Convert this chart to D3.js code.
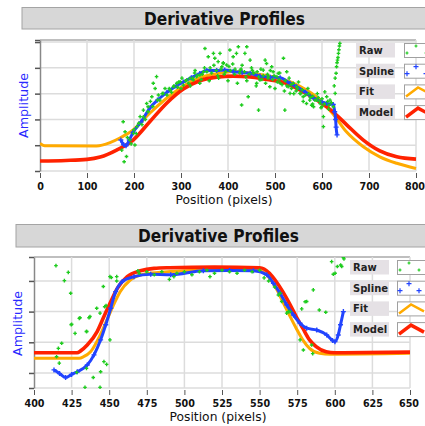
<!DOCTYPE html>
<html>
<head>
<meta charset="utf-8">
<script src="https://cdn.jsdelivr.net/npm/d3@7"></script>
<style>
body { margin: 0; background: #fff; }
svg { display: block; }
</style>
</head>
<body>
<script>
// ---- data: [position, amplitude] ----
const seriesNames = ['Raw', 'Spline', 'Fit', 'Model'];

const topModel = [[0,.39],[55,.41],[100,.45],[128,.54],[163,.81],[198,1.2],[234,1.92],[270,2.64],[305,3.18],[340,3.5],[376,3.64],[411,3.68],[447,3.65],[482,3.55],[517,3.44],[553,3.14],[589,2.75],[624,2.28],[652,1.8],[688,1.2],[723,.78],[759,.55],[800,.46]];
const topFit = [[0,1.07],[10,.98],[120,.97],[149,1.1],[170,1.28],[198,1.59],[234,2.25],[270,2.83],[305,3.3],[340,3.62],[376,3.77],[411,3.86],[447,3.8],[482,3.7],[517,3.56],[553,3.28],[589,2.86],[624,2.2],[652,1.52],[688,.94],[723,.55],[759,.3],[800,.1]];
const topSpline = [[172,1.2],[178,1.02],[183,.98],[190,1.2],[198,1.5],[215,1.9],[234,2.45],[250,2.75],[270,3.05],[290,3.3],[305,3.45],[322,3.62],[340,3.78],[355,3.9],[376,3.9],[393,3.92],[411,3.86],[430,3.82],[447,3.79],[468,3.68],[490,3.64],[511,3.62],[532,3.4],[546,3.27],[565,3.05],[582,2.82],[600,2.68],[610,2.62],[624,2.58],[627,2.3],[629,2.0],[630,1.7],[632,1.4]];
const topRaw = [[177,1.91],[181,1.52],[174,.81],[179,.36],[184,.56],[191,1.2],[199,1.46],[202,1.01],[206,1.72],[213,2.11],[220,2.36],[227,2.62],[238,2.88],[245,3.2],[248,3.66],[241,3.4],[230,2.49],[255,2.75],[262,3.01],[270,2.95],[277,3.14],[284,3.27],[291,3.4],[298,3.46],[305,3.33],[312,3.53],[319,3.59],[326,3.53],[333,3.66],[340,3.72],[348,3.85],[351,4.75],[358,4.43],[369,4.56],[372,4.37],[379,4.24],[383,4.56],[387,4.04],[390,4.17],[397,4.11],[404,4.69],[411,4.43],[418,4.56],[422,4.82],[426,3.91],[429,2.56],[436,4.56],[440,4.82],[447,4.3],[443,2.88],[454,3.79],[461,3.4],[465,2.36],[468,3.53],[475,3.91],[479,4.3],[482,4.17],[486,3.66],[489,3.27],[493,4.04],[496,3.85],[504,3.66],[507,3.79],[511,3.4],[518,4.37],[521,2.36],[525,3.85],[528,3.27],[532,3.01],[539,3.4],[546,3.27],[553,3.01],[560,2.88],[567,2.62],[574,2.75],[582,2.49],[589,2.75],[596,2.62],[603,2.11],[606,3.07],[610,2.88],[617,2.75],[624,2.49],[628,3.01],[631,4.04],[635,4.56],[638,4.95],[630,3.79],[633,4.3],[603,1.72],
  [260,3.0],[275,3.2],[285,3.3],[295,3.45],[310,3.5],[325,3.6],[335,3.7],[345,3.75],[355,3.85],[365,3.8],[375,3.9],[385,3.95],[395,3.85],[405,3.9],[415,3.95],[425,3.8],[435,3.85],[445,3.75],[455,3.8],[465,3.65],[475,3.7],[485,3.6],[495,3.55],[505,3.45],[515,3.35],[525,3.3],[535,3.2],[545,3.1],[555,3.0],[565,2.95],[575,2.85],[585,2.75],[595,2.7],[605,2.6],[615,2.55],[200,1.6],[210,1.85],[220,2.1],[230,2.3],[240,2.5],[250,2.75],
  [300,3.2],[320,3.3],[340,3.4],[360,3.5],[380,3.6],[400,3.5],[420,3.4],[440,3.5],[460,3.3],[480,3.4],[500,3.2],[520,3.1],[540,3.0],[560,2.7],[580,2.6],[600,2.5],
  [330,3.9],[350,4.0],[370,4.1],[390,4.2],[410,4.15],[430,4.1],[450,4.0],[470,3.95],[490,3.9],[510,3.8],[530,3.6],[550,3.45],[570,3.2],[590,3.0],
  [626,3.3],[628,3.6],[632,4.2],[634,4.4],[636,4.7],[637,4.85],
  [186,1.3],[194,1.05],[205,1.45],[217,1.8],[224,2.0],[235,2.7],[252,2.95],[266,3.2],[280,3.05],[293,3.25],[302,3.6],[316,3.4],[329,3.8],[343,3.55],[362,4.0],[378,3.7],[392,3.75],[402,4.05],[414,3.75],[428,3.95],[438,3.65],[452,3.9],[462,3.85],[472,3.55],[484,3.75],[498,3.7],[509,3.55],[522,3.5],[534,3.35],[548,3.2],[558,3.15],[572,3.0],[580,2.9],[592,2.85],[600,2.8],[612,2.7],[620,2.65],[614,2.4],[598,2.45],[578,2.55]];

const botModel = [[400,1.66],[428.6,1.66],[431,1.72],[435.4,1.91],[442,2.35],[446.5,2.84],[451,3.32],[455.4,3.76],[462,4.14],[470.7,4.33],[479.8,4.41],[490,4.43],[520,4.45],[550,4.43],[556.6,4.25],[561,3.98],[565.4,3.65],[569.8,3.27],[574.3,2.84],[578.7,2.46],[583.2,2.08],[587.6,1.86],[594.3,1.69],[600,1.66],[650,1.68]];
const botFit = [[400,1.48],[430,1.48],[433,1.53],[437.6,1.69],[444,2.24],[448.5,2.73],[452.9,3.22],[457.3,3.65],[464,4.03],[472.8,4.22],[484,4.28],[500,4.33],[520,4.36],[548,4.36],[552.5,4.28],[556.6,4.09],[561,3.76],[565.4,3.32],[569.8,2.89],[574.3,2.46],[578.7,2.08],[583.2,1.8],[589.9,1.64],[597,1.61],[650,1.64]];
const botSpline = [[413.3,1.1],[417,.98],[421,.85],[425,.95],[428.8,1.04],[435.4,1.26],[439.9,1.59],[444.3,2.08],[447.7,2.57],[451,3.11],[454.3,3.65],[458.7,3.98],[466.5,4.14],[477.6,4.22],[490.9,4.2],[512.6,4.33],[530,4.34],[545.9,4.33],[554.8,4.2],[559.2,3.92],[563.6,3.6],[568,3.22],[572.5,2.89],[576.9,2.62],[581.3,2.46],[588,2.4],[594.6,2.24],[598.5,2.06],[600.1,2.02],[602.3,2.24],[603.8,2.57],[605.7,3.0]];
const botRaw = [[414.6,4.5],[422.8,4.28],[420.2,4.01],[424.4,3.6],[425,2.59],[430.1,2.78],[427.3,2.29],[434.9,2.35],[437.2,2.84],[441.7,3.11],[443.9,2.95],[446.1,3.82],[447.9,3.2],[450.5,4.14],[455,4.14],[418.4,1.97],[416.2,1.8],[416.8,1.32],[434.9,1.15],[439.4,.85],[444.3,1.04],[446.5,1.37],[433.9,.53],[443.9,.53],[415,1.53],
  [447,3.16],[436.6,2.8],[430.6,2.8],[424.8,2.57],[435,2.35],[450.5,2.08],[448.3,1.28],[428.4,1.02],[451.4,4.11],[455,4.0],[469.1,4.33],
  [470,4.25],[475,4.3],[480,4.2],[485,4.3],[490,4.05],[493,4.14],[495,4.25],[500,4.3],[505,4.2],[510,4.3],[515,4.35],[517,4.14],[520,4.25],[525,4.35],[530,4.3],[535,4.25],[540,4.35],[545,4.3],[550,4.35],[553,4.1],[556,4.0],[560,3.8],[562.5,3.54],[564.7,3.33],[563.6,3.6],[569.1,3.0],[570.2,3.0],[568,2.95],
  [578,3.09],[580.3,3.32],[585.7,3.71],[589.7,3.05],[594,2.98],[581.3,3.33],[576.9,2.08],[579.1,1.75],[585.3,1.63],[584.6,1.91],
  [597.9,4.63],[599,4.22],[601.7,4.47],[603.9,4.52],[605.7,4.76],[600.2,4.25],[604.6,4.47],[606.1,4.72]];

const topXTicks = [0, 100, 200, 300, 400, 500, 600, 700, 800];
const botXTicks = [400, 425, 450, 475, 500, 525, 550, 575, 600, 625, 650];
const topYTicks = [0, 1, 2, 3, 4, 5, 5.08];
const botYTicks = [0.51, 1, 2, 3, 4, 4.78];

const colors = { raw: '#1ecc1e', spline: '#2244ff', fit: '#ffaa00', model: '#ff2200' };

const svg = d3.select('body').append('svg').attr('width', 425).attr('height', 426);

function plus(s) { return `M${-s},0H${s}M0,${-s}V${s}`; }

function drawPanel(p) {
    const g = svg.append('g');

    // title bar
    g.append('rect')
        .attr('x', p.bar.x).attr('y', p.bar.y)
        .attr('width', 440 - p.bar.x).attr('height', p.bar.h)
        .attr('fill', '#d7d7d7').attr('stroke', '#a4a4a4');
    g.append('text')
        .attr('x', p.bar.tx).attr('y', p.bar.ty)
        .attr('text-anchor', 'middle')
        .attr('font-family', 'DejaVu Sans').attr('font-weight', 'bold')
        .attr('font-size', 17).attr('fill', '#111')
        .attr('textLength', 161).attr('lengthAdjust', 'spacingAndGlyphs')
        .text('Derivative Profiles');

    const x = d3.scaleLinear().domain(p.xDomain).range([p.left, p.right]);
    const y = d3.scaleLinear().domain(p.yDomain).range([p.bottom, p.top]);

    // grid
    g.append('g').selectAll('line').data(p.yTicks).join('line')
        .attr('x1', p.left).attr('x2', p.right)
        .attr('y1', d => y(d)).attr('y2', d => y(d))
        .attr('stroke', d => d === p.yDomain[1] ? '#aaa' : '#dcdcdc')
        .attr('stroke-width', 1.5);
    g.append('g').selectAll('line').data(p.xTicks.slice(1)).join('line')
        .attr('x1', d => x(d)).attr('x2', d => x(d))
        .attr('y1', p.top).attr('y2', p.bottom)
        .attr('stroke', '#dcdcdc').attr('stroke-width', 1.5);

    // axes
    const ya = g.append('g').attr('transform', `translate(${p.left},0)`)
        .call(d3.axisLeft(y).tickValues(p.yTicks).tickFormat('').tickSize(5).tickSizeOuter(0));
    ya.select('.domain').attr('stroke', '#888').attr('stroke-width', 1.5);
    ya.selectAll('.tick line').attr('stroke', '#555').attr('stroke-width', 1.5);

    const xa = g.append('g').attr('transform', `translate(0,${p.bottom + 2})`)
        .call(d3.axisBottom(x).tickValues(p.xTicks).tickSize(5).tickPadding(5));
    xa.select('.domain').remove();
    xa.selectAll('.tick line').attr('stroke', '#555');
    xa.selectAll('.tick text')
        .attr('font-family', 'DejaVu Sans').attr('font-weight', 'bold')
        .attr('font-size', 9.6).attr('fill', '#111')
        .attr('dx', (d, i, n) => i === n.length - 1 ? -1.5 : 0);

    g.append('text')
        .attr('x', p.xlab.x).attr('y', p.xlab.y)
        .attr('text-anchor', 'middle')
        .attr('font-family', 'DejaVu Sans').attr('font-size', 12.3).attr('fill', '#111')
        .text('Position (pixels)');
    g.append('text')
        .attr('transform', `translate(${p.ylab.x},${p.ylab.y}) rotate(-90)`)
        .attr('text-anchor', 'middle')
        .attr('font-family', 'DejaVu Sans').attr('font-size', 12.7).attr('fill', '#2a2aff')
        .text('Amplitude');

    // series
    const clipId = 'clip' + p.id;
    g.append('clipPath').attr('id', clipId).append('rect')
        .attr('x', p.left).attr('y', p.top)
        .attr('width', p.right - p.left + 2).attr('height', p.bottom - p.top + 1);
    const plot = g.append('g').attr('clip-path', `url(#${clipId})`);

    const line = d3.line().x(d => x(d[0])).y(d => y(d[1])).curve(d3.curveMonotoneX);

    plot.append('path').datum(p.fit).attr('d', line)
        .attr('fill', 'none').attr('stroke', colors.fit).attr('stroke-width', 3);
    plot.append('path').datum(p.model).attr('d', line)
        .attr('fill', 'none').attr('stroke', colors.model).attr('stroke-width', 3.6);
    plot.append('path').datum(p.spline).attr('d', line)
        .attr('fill', 'none').attr('stroke', colors.spline).attr('stroke-width', 3);
    plot.append('g').selectAll('path').data(p.spline).join('path')
        .attr('transform', d => `translate(${x(d[0])},${y(d[1])})`)
        .attr('d', plus(2.5)).attr('stroke', colors.spline).attr('stroke-width', 1.4);
    plot.append('g').selectAll('path').data(p.raw).join('path')
        .attr('transform', d => `translate(${x(d[0])},${y(d[1])})`)
        .attr('d', plus(1.8)).attr('stroke', colors.raw).attr('stroke-width', 1.4);

    // legend
    const lg = g.append('g');
    seriesNames.forEach((name, i) => {
        const ry = p.leg.y + i * 20.7;
        lg.append('rect').attr('x', p.leg.x).attr('y', ry).attr('width', 39).attr('height', 14.5)
            .attr('fill', '#e5e1e5');
        lg.append('text').attr('x', p.leg.x + 3).attr('y', ry + 11)
            .attr('font-family', 'DejaVu Sans').attr('font-weight', 'bold')
            .attr('font-size', 10).attr('fill', '#222').text(name);
        const sx = p.leg.sx;
        lg.append('rect').attr('x', sx + 0.5).attr('y', ry + 0.5).attr('width', 40).attr('height', 14)
            .attr('fill', '#fff').attr('stroke', '#a0a0a0');
        if (i < 2) {
            const c = i === 0 ? colors.raw : colors.spline;
            const s = i === 0 ? 1.5 : 2.5;
            [[12, 3], [3, 10], [22, 10]].forEach(pt => {
                lg.append('path').attr('transform', `translate(${sx + pt[0]},${ry + pt[1]})`)
                    .attr('d', plus(s)).attr('stroke', c).attr('stroke-width', 1.2);
            });
        } else {
            lg.append('path')
                .attr('d', `M${sx + 2},${ry + 12}L${sx + 14},${ry + 3}L${sx + 27},${ry + 10}`)
                .attr('fill', 'none')
                .attr('stroke', i === 2 ? colors.fit : colors.model)
                .attr('stroke-width', i === 2 ? 2.5 : 3.5);
        }
    });
}

drawPanel({
    id: 'top',
    bar: { x: 22, y: 7.5, h: 21.5, tx: 224.5, ty: 25 },
    xDomain: [0, 800], yDomain: [0, 5.08],
    left: 40, right: 416, top: 40, bottom: 171,
    xTicks: topXTicks, yTicks: topYTicks,
    xlab: { x: 224, y: 204 }, ylab: { x: 28, y: 105.5 },
    model: topModel, fit: topFit, spline: topSpline, raw: topRaw,
    leg: { x: 356, y: 43, sx: 404 }
});

drawPanel({
    id: 'bot',
    bar: { x: 16, y: 224.5, h: 22.5, tx: 218.5, ty: 241.5 },
    xDomain: [400, 650], yDomain: [0.51, 4.78],
    left: 34, right: 410, top: 257, bottom: 388,
    xTicks: botXTicks, yTicks: botYTicks,
    xlab: { x: 218, y: 421 }, ylab: { x: 21.5, y: 323.5 },
    model: botModel, fit: botFit, spline: botSpline, raw: botRaw,
    leg: { x: 350, y: 260, sx: 397 }
});
</script>
</body>
</html>
